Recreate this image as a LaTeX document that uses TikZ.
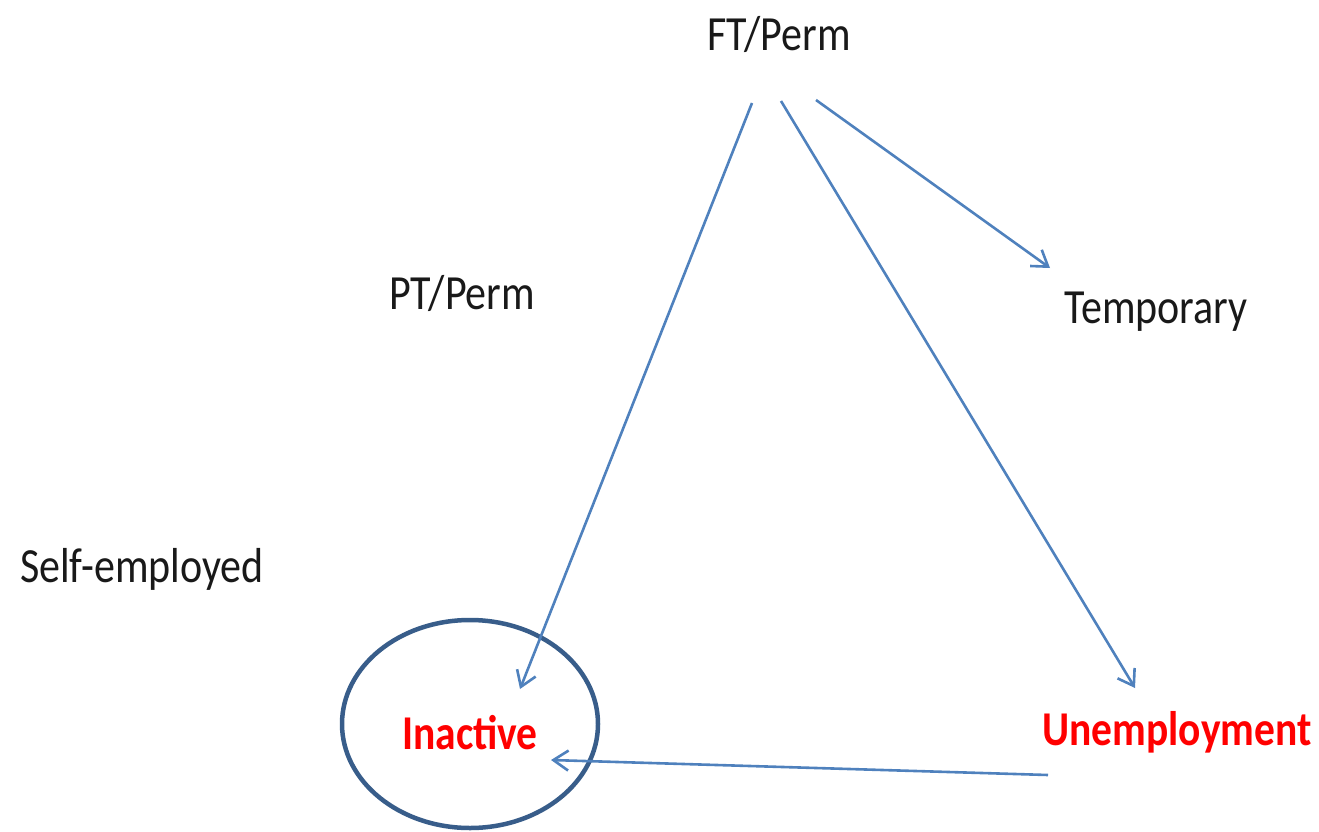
\documentclass[tikz,border=0pt]{standalone}
\usepackage{fontspec}
\setmainfont{Carlito}
\usetikzlibrary{arrows.meta,shapes.geometric}
\definecolor{arrowblue}{RGB}{79,129,189}
\definecolor{ringblue}{RGB}{56,93,138}
\definecolor{txtred}{RGB}{255,0,0}
\newcommand{\stxt}[1]{\scalebox{1}[1.17]{#1}}
\tikzset{
  lbl/.style={inner sep=0pt, anchor=center, font=\fontsize{42}{48}\selectfont, text=black!90},
  redlbl/.style={lbl, font=\fontsize{41.5}{48}\selectfont\bfseries, text=txtred},
  flow/.style={draw=arrowblue, line width=2.6pt, -{Straight Barb[length=15pt,width=20pt,line width=2.6pt]}},
  ring/.style={draw=ringblue, line width=4.5pt}
}
\begin{document}
\begin{tikzpicture}[x=1pt,y=-1pt]
\useasboundingbox (0,0) rectangle (1319,832);
\node[lbl] (ft) at (779,34) {\stxt{FT/Perm}};
\node[lbl] (pt) at (462,293) {\stxt{PT/Perm}};
\node[lbl] (temp) at (1156,312) {\stxt{Temporary}};
\node[lbl] (self) at (142,569) {\stxt{Self-employed}};
\node[redlbl] (inact) at (470,733) {\stxt{Inactive}};
\node[redlbl] (unemp) at (1177,732) {\stxt{Unemployment}};
\node[ring, ellipse, minimum width=256pt, minimum height=208pt, inner sep=0pt] (circ) at (470,724) {};
\coordinate (ftA) at (752,103);
\coordinate (ftB) at (781,101);
\coordinate (ftC) at (816,100);
\coordinate (inTop) at (520,689);
\coordinate (unTop) at (1135,688);
\coordinate (tmTop) at (1050,268);
\coordinate (unLeft) at (1048,775);
\coordinate (inRight) at (551,760);
\draw[flow] (ftA) -- (inTop);
\draw[flow] (ftB) -- (unTop);
\draw[flow] (ftC) -- (tmTop);
\draw[flow] (unLeft) -- (inRight);
\end{tikzpicture}
\end{document}
